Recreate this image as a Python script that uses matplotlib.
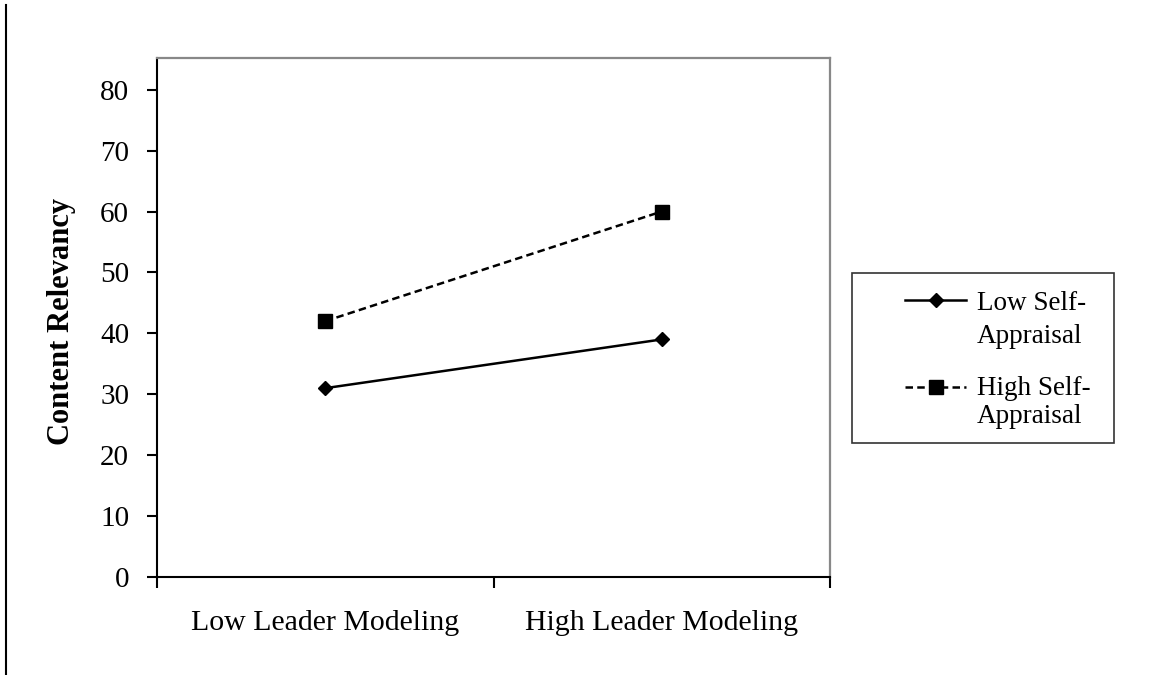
import matplotlib.pyplot as plt
from matplotlib.lines import Line2D
from matplotlib.patches import Rectangle

# Data
conditions = ["Low Leader Modeling", "High Leader Modeling"]
low_self_appraisal = [31, 39]
high_self_appraisal = [42, 60]
y_ticks = [0, 10, 20, 30, 40, 50, 60, 70, 80]
series_names = [("Low Self-", "Appraisal"), ("High Self-", "Appraisal")]

plt.rcParams['font.family'] = ['Liberation Serif', 'DejaVu Serif']

W, H = 1155, 675
fig = plt.figure(figsize=(W / 100, H / 100), dpi=100)
ax = fig.add_axes([157 / W, 98 / H, 673 / W, 519 / H])

low_style = dict(color='black', lw=1.8, marker='D', markersize=7)
high_style = dict(color='black', lw=1.8, linestyle=(0, (3.0, 1.7)),
                  marker='s', markersize=10)

x = [0.5, 1.5]
ax.plot(x, low_self_appraisal, **low_style)
ax.plot(x, high_self_appraisal, **high_style)

ax.set_xlim(0, 2)
ax.set_ylim(0, 85.2)
ax.set_yticks(y_ticks)
ax.set_xticks([0, 1, 2])
ax.set_xticklabels([])
ax.set_xticks(x, minor=True)
ax.set_xticklabels(conditions, minor=True, fontsize=21.5)
ax.tick_params(axis='x', which='minor', length=0, pad=24)
ax.tick_params(axis='x', which='major', length=8, width=1.5, direction='out')
ax.tick_params(axis='y', length=7, width=1.5, direction='out', pad=13, labelsize=21)

for side in ['left', 'bottom']:
    ax.spines[side].set_color('black')
    ax.spines[side].set_linewidth(1.5)
for side in ['top', 'right']:
    ax.spines[side].set_color('#888888')
    ax.spines[side].set_linewidth(1.6)

ax.set_ylabel('Content Relevancy', fontsize=22, fontweight='bold')
ax.yaxis.set_label_coords(-0.121, 0.492)

# legend drawn by hand: handle sits on the first line of each label
fig.add_artist(Rectangle((852 / W, 1 - 443 / H), 262 / W, 170 / H,
                         transform=fig.transFigure, fill=False,
                         edgecolor='#333333', lw=1.2))
handle_y = [300, 387]
baselines = [(310, 343), (395, 423)]
for style, hy, (b1, b2), (l1, l2) in zip([low_style, high_style], handle_y,
                                         baselines, series_names):
    fig.add_artist(Line2D([905 / W, 966 / W], [1 - hy / H, 1 - hy / H],
                          markevery=[], **style))
    fig.add_artist(Line2D([935.5 / W], [1 - hy / H], **style))
    fig.text(977 / W, 1 - b1 / H, l1, fontsize=19.5, va='baseline')
    fig.text(977 / W, 1 - b2 / H, l2, fontsize=19.5, va='baseline')

# thin vertical rule at the far left edge
fig.add_artist(Line2D([6 / W, 6 / W], [0, 1 - 5 / H], color='black', lw=1.5))

fig.savefig('out.png', dpi=100, facecolor='white')
